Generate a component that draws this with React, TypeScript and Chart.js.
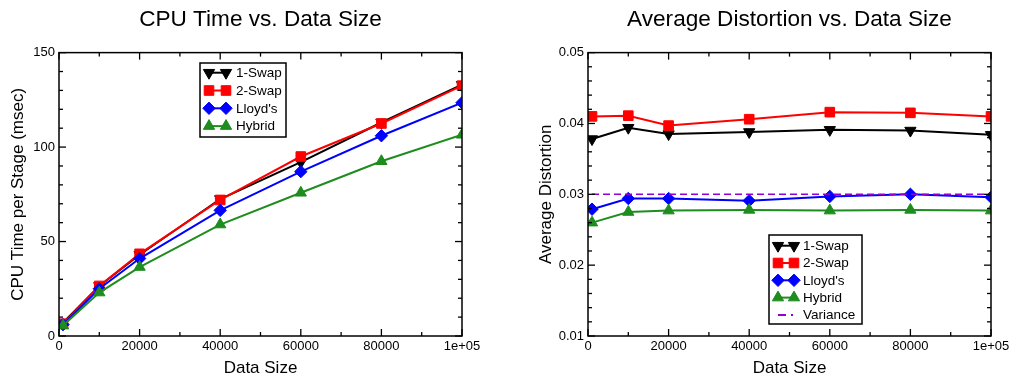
import React, { useEffect, useRef } from 'react';
import { Chart, registerables } from 'chart.js';
import { drawPoint } from 'chart.js/helpers';

Chart.register(...registerables);

const FONT = '"Liberation Sans", Arial, Helvetica, sans-serif';

// ---------- data ----------
const dataSizes = [1000, 10000, 20000, 40000, 60000, 80000, 100000];

const cpuOneSwap = [7, 26.5, 43, 72.5, 92, 113, 133];
const cpuTwoSwap = [6.5, 26.5, 43.5, 72, 95, 112.5, 132.5];
const cpuLloyds = [6, 25, 41, 66.5, 87, 106, 123.5];
const cpuHybrid = [5.5, 23, 36.5, 59, 75.8, 92.5, 106.5];

const distOneSwap = [0.0378, 0.0394, 0.0385, 0.0388, 0.0391, 0.039, 0.0384];
const distTwoSwap = [0.041, 0.0411, 0.0397, 0.0406, 0.0416, 0.0415, 0.041];
const distLloyds = [0.0279, 0.0294, 0.0294, 0.0291, 0.0297, 0.03, 0.0296];
const distHybrid = [0.026, 0.0275, 0.0277, 0.0278, 0.0277, 0.0278, 0.0277];
const varianceX = [1000, 100000];
const varianceY = [0.03, 0.03];

const xTickLabels = ['0', '20000', '40000', '60000', '80000', '1e+05'];
const cpuTickLabels = ['0', '50', '100', '150'];
const distTickLabels = ['0.01', '0.02', '0.03', '0.04', '0.05'];

const seriesNames = ['1-Swap', '2-Swap', "Lloyd's", 'Hybrid', 'Variance'];
const seriesColors = ['#000000', '#ff0000', '#0000ff', '#1e8c1e', '#9400d3'];
const seriesMarkers = ['triangle', 'rect', 'rectRot', 'triangle'];
const markerRotation = [180, 0, 0, 0];
const markerRadius = [6.5, 6.8, 6.2, 6.5];

const pts = (xs: number[], ys: number[]) => xs.map((x, i) => ({ x, y: ys[i] }));

function seriesDataset(i: number, values: number[]) {
  return {
    label: seriesNames[i],
    data: pts(dataSizes, values),
    borderColor: seriesColors[i],
    backgroundColor: seriesColors[i],
    borderWidth: 2,
    pointStyle: seriesMarkers[i],
    pointRotation: markerRotation[i],
    pointRadius: markerRadius[i],
    pointBorderWidth: 1,
    pointBackgroundColor: seriesColors[i],
    pointBorderColor: seriesColors[i],
    tension: 0,
    order: 10 - i,
  };
}

function varianceDataset() {
  return {
    label: seriesNames[4],
    data: pts(varianceX, varianceY),
    borderColor: seriesColors[4],
    backgroundColor: seriesColors[4],
    borderWidth: 1.5,
    borderDash: [7, 4],
    legendDash: [8, 5, 2, 5],
    pointRadius: 0,
    tension: 0,
    order: 0,
  };
}

// ---------- plugins ----------
const framePlugin = {
  id: 'frameTicks',
  afterDatasetsDraw(chart: any, _args: any, opts: any) {
    const { ctx, chartArea: a } = chart;
    const xs = chart.scales.x;
    const ys = chart.scales.y;
    ctx.save();
    ctx.strokeStyle = '#000';
    ctx.lineWidth = 1.5;
    ctx.strokeRect(a.left, a.top, a.right - a.left, a.bottom - a.top);
    ctx.lineWidth = 1.3;
    const seg = (x1: number, y1: number, x2: number, y2: number) => {
      ctx.beginPath();
      ctx.moveTo(x1, y1);
      ctx.lineTo(x2, y2);
      ctx.stroke();
    };
    const ticksFor = (scale: any, minorStep: number, majorStep: number) => {
      const out: { v: number; major: boolean }[] = [];
      const n = Math.round((scale.max - scale.min) / minorStep);
      const every = Math.round(majorStep / minorStep);
      for (let i = 0; i <= n; i++) out.push({ v: scale.min + i * minorStep, major: i % every === 0 });
      return out;
    };
    ticksFor(xs, opts.xMinor, opts.xMajor).forEach((t) => {
      const p = xs.getPixelForValue(t.v);
      const len = t.major ? 7 : 4;
      seg(p, a.bottom, p, a.bottom - len);
      seg(p, a.top, p, a.top + len);
    });
    ticksFor(ys, opts.yMinor, opts.yMajor).forEach((t) => {
      const p = ys.getPixelForValue(t.v);
      const len = t.major ? 7 : 4;
      seg(a.left, p, a.left + len, p);
      seg(a.right, p, a.right - len, p);
    });
    ctx.restore();
  },
};

const legendPlugin = {
  id: 'boxLegend',
  afterDraw(chart: any, _args: any, opts: any) {
    const { ctx } = chart;
    const { left, top, width, height, rowStart, rowGap, s0, s1, textX } = opts;
    ctx.save();
    ctx.fillStyle = '#fff';
    ctx.fillRect(left, top, width, height);
    ctx.strokeStyle = '#000';
    ctx.lineWidth = 1.5;
    ctx.strokeRect(left, top, width, height);
    chart.data.datasets.forEach((ds: any, i: number) => {
      const yy = top + rowStart + i * rowGap;
      ctx.strokeStyle = ds.borderColor;
      ctx.lineWidth = 2;
      ctx.setLineDash(ds.legendDash || ds.borderDash || []);
      ctx.beginPath();
      ctx.moveTo(left + s0, yy);
      ctx.lineTo(left + s1, yy);
      ctx.stroke();
      ctx.setLineDash([]);
      if (ds.pointRadius > 0) {
        ctx.fillStyle = ds.borderColor;
        ctx.lineWidth = 1;
        const o = { pointStyle: ds.pointStyle, rotation: ds.pointRotation, radius: ds.pointRadius, borderWidth: 1 };
        drawPoint(ctx, o as any, left + s0, yy);
        drawPoint(ctx, o as any, left + s1, yy);
      }
      ctx.fillStyle = '#000';
      ctx.font = `13.5px ${FONT}`;
      ctx.textAlign = 'left';
      ctx.textBaseline = 'middle';
      ctx.fillText(ds.label, left + textX, yy + 0.5);
    });
    ctx.restore();
  },
};

// ---------- chart config ----------
function buildConfig(p: {
  title: string;
  yTitle: string;
  yTitlePad: number;
  yWidth: number;
  padRight: number;
  yMin: number;
  yMax: number;
  yStep: number;
  yMinor: number;
  yLabels: string[];
  datasets: any[];
  legend: any;
}) {
  return {
    type: 'line',
    data: { datasets: p.datasets },
    options: {
      animation: false,
      responsive: false,
      events: [],
      layout: { padding: { left: 0, right: p.padRight, top: 0, bottom: 0 } },
      plugins: {
        legend: { display: false },
        tooltip: { enabled: false },
        title: {
          display: true,
          text: p.title,
          fullSize: false,
          color: '#000',
          font: { family: FONT, size: 22.6, weight: 'normal', lineHeight: 1.2 },
          padding: { top: 6.5, bottom: 19 },
        },
        frameTicks: { xMinor: 10000, xMajor: 20000, yMinor: p.yMinor, yMajor: p.yStep },
        boxLegend: p.legend,
      },
      scales: {
        x: {
          type: 'linear',
          min: 0,
          max: 100000,
          afterFit: (s: any) => {
            s.height = 40;
          },
          grid: { display: false, drawTicks: false },
          border: { display: false },
          ticks: {
            stepSize: 20000,
            padding: 3,
            color: '#000',
            maxRotation: 0,
            autoSkip: false,
            font: { family: FONT, size: 13 },
            callback: (_v: any, i: number) => xTickLabels[i],
          },
          title: {
            display: true,
            text: 'Data Size',
            color: '#000',
            font: { family: FONT, size: 17, lineHeight: 1 },
            padding: { top: 0, bottom: -1 },
          },
        },
        y: {
          type: 'linear',
          min: p.yMin,
          max: p.yMax,
          afterFit: (s: any) => {
            s.width = p.yWidth;
          },
          grid: { display: false, drawTicks: false },
          border: { display: false },
          ticks: {
            stepSize: p.yStep,
            padding: 4,
            color: '#000',
            autoSkip: false,
            font: { family: FONT, size: 13 },
            callback: (_v: any, i: number) => p.yLabels[i],
          },
          title: {
            display: true,
            text: p.yTitle,
            color: '#000',
            font: { family: FONT, size: 17, lineHeight: 1.2 },
            padding: { top: p.yTitlePad, bottom: 0 },
          },
        },
      },
    },
    plugins: [framePlugin, legendPlugin],
  };
}

function ChartPanel({ left, width, config }: { left: number; width: number; config: any }) {
  const ref = useRef<HTMLCanvasElement | null>(null);
  useEffect(() => {
    if (!ref.current) return;
    const chart = new Chart(ref.current, config);
    return () => chart.destroy();
  }, [config]);
  return (
    <div style={{ position: 'absolute', left, top: 0, width, height: 376 }}>
      <canvas ref={ref} width={width} height={376} style={{ width, height: 376, display: 'block' }} />
    </div>
  );
}

const cpuConfig = buildConfig({
  title: 'CPU Time vs. Data Size',
  yTitle: 'CPU Time per Stage (msec)',
  yTitlePad: 7.8,
  yWidth: 59,
  padRight: 44,
  yMin: 0,
  yMax: 150,
  yStep: 50,
  yMinor: 10,
  yLabels: cpuTickLabels,
  datasets: [
    seriesDataset(0, cpuOneSwap),
    seriesDataset(1, cpuTwoSwap),
    seriesDataset(2, cpuLloyds),
    seriesDataset(3, cpuHybrid),
  ],
  legend: { left: 200, top: 63, width: 86, height: 74, rowStart: 9.7, rowGap: 17.8, s0: 9, s1: 26, textX: 36 },
});

const distConfig = buildConfig({
  title: 'Average Distortion vs. Data Size',
  yTitle: 'Average Distortion',
  yTitlePad: 30.5,
  yWidth: 82,
  padRight: 22,
  yMin: 0.01,
  yMax: 0.05,
  yStep: 0.01,
  yMinor: 0.002,
  yLabels: distTickLabels,
  datasets: [
    seriesDataset(0, distOneSwap),
    seriesDataset(1, distTwoSwap),
    seriesDataset(2, distLloyds),
    seriesDataset(3, distHybrid),
    varianceDataset(),
  ],
  legend: { left: 263, top: 235, width: 93, height: 89, rowStart: 10.7, rowGap: 17.3, s0: 9, s1: 25, textX: 34 },
});

export default function App() {
  return (
    <div style={{ position: 'absolute', left: 0, top: 0, width: 1013, height: 376, background: '#fff' }}>
      <ChartPanel left={0} width={506} config={cpuConfig} />
      <ChartPanel left={506} width={507} config={distConfig} />
    </div>
  );
}
